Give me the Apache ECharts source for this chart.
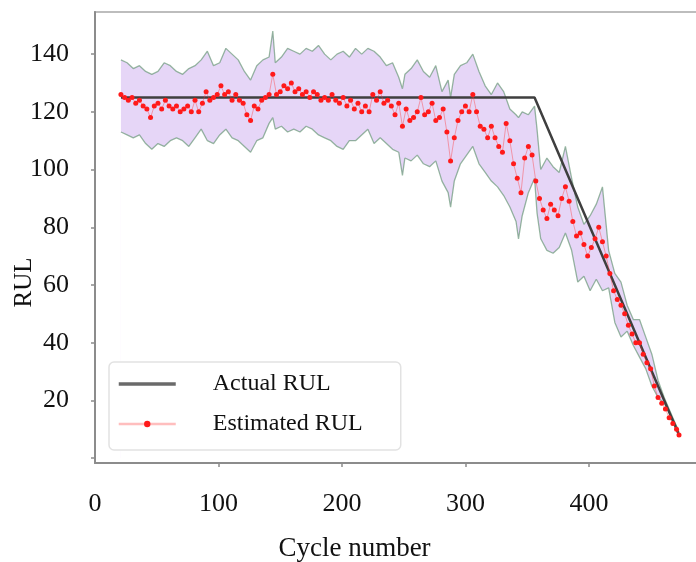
<!DOCTYPE html>
<html>
<head>
<meta charset="utf-8">
<title>RUL estimation</title>
<script src="https://cdn.jsdelivr.net/npm/echarts@6.0.0/dist/echarts.min.js"></script>
<style>
    html, body { margin: 0; padding: 0; background: #fff; }
    #main { width: 696px; height: 562px; }
</style>
</head>
<body>
<div id="main"></div>
<script>
// 数据：周期与RUL
var actualCycles = [21, 356, 473];
var actualRul = [125, 125, 8];

var estCycles = [21, 24, 27, 30, 33, 36, 39, 42, 45, 48, 51, 54, 57, 60, 63, 66, 69, 72, 75, 78,
    81, 84, 87, 90, 93, 96, 99, 102, 105, 108, 111, 114, 117, 120, 123, 126, 129, 132, 135, 138,
    141, 144, 147, 150, 153, 156, 159, 162, 165, 168, 171, 174, 177, 180, 183, 186, 189, 192, 195, 198,
    201, 204, 207, 210, 213, 216, 219, 222, 225, 228, 231, 234, 237, 240, 243, 246, 249, 252, 255, 258,
    261, 264, 267, 270, 273, 276, 279, 282, 285, 288, 291, 294, 297, 300, 303, 306, 309, 312, 315, 318,
    321, 324, 327, 330, 333, 336, 339, 342, 345, 348, 351, 354, 357, 360, 363, 366, 369, 372, 375, 378,
    381, 384, 387, 390, 393, 396, 399, 402, 405, 408, 411, 414, 417, 420, 423, 426, 429, 432, 435, 438,
    441, 444, 447, 450, 453, 456, 459, 462, 465, 468, 471, 473];
var estRul = [126, 125, 124, 125, 123, 124, 122, 121, 118, 122, 123, 121, 124, 122, 121, 122, 120, 121, 122, 120,
    124, 120, 123, 127, 124, 125, 126, 129, 126, 127, 124, 126, 124, 123, 119, 117, 122, 121, 124, 125,
    126, 133, 126, 127, 129, 128, 130, 127, 128, 126, 127, 125, 127, 126, 124, 125, 124, 126, 124, 123,
    125, 122, 124, 121, 123, 120, 122, 120, 126, 124, 127, 123, 124, 122, 119, 123, 115, 121, 117, 118,
    120, 125, 119, 120, 123, 117, 118, 121, 113, 103, 111, 117, 120, 122, 120, 126, 120, 115, 114, 111,
    115, 111, 108, 106, 116, 110, 102, 97, 92, 104, 108, 105, 96, 90, 86, 83, 88, 86, 84, 90,
    94, 89, 82, 77, 78, 74, 70, 73, 76, 80, 75, 70, 64, 58, 55, 53, 50, 46, 43, 40,
    40, 36, 33, 31, 25, 21, 19, 17, 14, 12, 10, 8];

var bandCycles = [21, 26, 31, 36, 41, 46, 51, 56, 61, 66, 71, 76, 81, 86, 91, 96, 101, 106, 111, 116,
    121, 126, 131, 136, 141, 144, 146, 151, 156, 161, 166, 171, 176, 181, 186, 191, 196, 201, 206, 211,
    216, 221, 226, 231, 236, 241, 246, 249, 251, 256, 261, 266, 271, 276, 281, 286, 288, 291, 296, 301,
    306, 311, 316, 321, 326, 331, 336, 341, 343, 346, 351, 356, 358, 361, 366, 371, 376, 381, 386, 391,
    396, 401, 406, 411, 416, 421, 426, 431, 436, 441, 446, 451, 456, 461, 466, 471, 473];
var bandUpper = [138, 137, 135, 136, 134, 133, 134, 137, 136, 134, 133, 135, 136, 138, 141, 136, 137, 142, 140, 138,
    134, 131, 136, 138, 139, 148, 137, 139, 142, 141, 140, 142, 141, 143, 140, 138, 140, 141, 139, 142,
    140, 142, 141, 139, 136, 137, 132, 128, 133, 135, 138, 134, 132, 136, 127, 131, 125, 133, 136, 137,
    140, 134, 129, 126, 130, 127, 121, 119, 118, 120, 119, 122, 114, 100, 104, 101, 99, 108, 97, 87,
    81, 84, 88, 94, 72, 64, 61, 53, 48, 48, 42, 36, 27, 21, 16, 11, 9];
var bandLower = [113, 112, 111, 112, 109, 107, 109, 108, 110, 111, 110, 108, 111, 114, 110, 109, 112, 114, 111, 110,
    108, 106, 110, 111, 116, 118, 114, 115, 113, 114, 113, 115, 114, 112, 111, 110, 108, 107, 110, 110,
    112, 114, 109, 111, 109, 107, 106, 98, 104, 103, 105, 102, 101, 103, 96, 92, 87, 96, 102, 105,
    108, 102, 99, 96, 94, 91, 87, 82, 76, 84, 92, 97, 85, 76, 72, 71, 73, 78, 72, 61,
    63, 58, 62, 58, 59, 47, 42, 44, 39, 35, 31, 25, 21, 19, 15, 11, 7.5];

var xLabels = [0, 100, 200, 300, 400];
var xTicks = [100, 200, 300, 400];
var yLabels = [20, 40, 60, 80, 100, 120, 140];
var yTicks = [0, 20, 40, 60, 80, 100, 120, 140];

(function () {
    var myChart = echarts.init(document.getElementById('main'));
    var serif = 'Liberation Serif';

    function pairs(xs, ys) {
        return xs.map(function (x, i) { return [x, ys[i]]; });
    }
    // 置信带：上界填充淡紫色，下界以下用白色盖住
    var bandLine = 'rgba(70,130,85,0.55)';

    var option = {
        animation: false,
        backgroundColor: '#fff',
        grid: {
            left: 95, top: 12, right: -4, bottom: 99,
            outerBoundsMode: 'none',
            show: true, borderColor: '#bdbdbd', borderWidth: 2
        },
        legend: {
            data: [
                { name: 'Actual RUL', lineStyle: { color: '#6a6a6a', width: 3.5 }, itemStyle: { opacity: 0 } },
                { name: 'Estimated RUL', lineStyle: { color: 'rgba(255,110,110,0.45)', width: 2.5 }, itemStyle: { color: '#ff1a1a' } }
            ],
            orient: 'vertical',
            left: 109, top: 362,
            itemWidth: 57, itemHeight: 8, itemGap: 16,
            padding: [10, 38, 14, 8],
            backgroundColor: '#fff',
            borderColor: '#e2e2e2', borderWidth: 1.5, borderRadius: 5,
            textStyle: { fontFamily: serif, fontSize: 24, color: '#111', padding: [0, 0, 0, 32] }
        },
        xAxis: {
            type: 'value',
            min: 0, max: 490,
            name: 'Cycle number',
            nameLocation: 'middle',
            nameGap: 72,
            nameMoveOverlap: false,
            nameTextStyle: { fontFamily: serif, fontSize: 27, color: '#111', padding: [0, 86, 0, 0] },
            axisLine: { show: true, onZero: false, lineStyle: { color: '#8c8c8c', width: 2 } },
            axisTick: { show: true, customValues: xTicks, length: 4, lineStyle: { color: '#8c8c8c', width: 1.5 } },
            axisLabel: { customValues: xLabels, fontFamily: serif, fontSize: 26, color: '#111', margin: 28 },
            splitLine: { show: false }
        },
        yAxis: {
            type: 'value',
            min: -1.7, max: 154.6,
            name: 'RUL',
            nameLocation: 'middle',
            nameGap: 58,
            nameMoveOverlap: false,
            nameTextStyle: { fontFamily: serif, fontSize: 25, color: '#111', padding: [0, 90, 0, 0] },
            axisLine: { show: true, onZero: false, lineStyle: { color: '#8c8c8c', width: 2 } },
            axisTick: { show: true, customValues: yTicks, length: 4, lineStyle: { color: '#8c8c8c', width: 1.5 } },
            axisLabel: { customValues: yLabels, fontFamily: serif, fontSize: 26, color: '#111', margin: 26 },
            splitLine: { show: false }
        },
        series: [
            {
                name: 'upper',
                type: 'line',
                data: pairs(bandCycles, bandUpper),
                symbol: 'none',
                lineStyle: { color: bandLine, width: 1.3 },
                areaStyle: { color: '#e6d6f7', opacity: 1 },
                z: 2
            },
            {
                name: 'lower',
                type: 'line',
                data: pairs(bandCycles, bandLower),
                symbol: 'none',
                lineStyle: { color: bandLine, width: 1.3 },
                areaStyle: { color: '#ffffff', opacity: 1 },
                z: 3
            },
            {
                name: 'Actual RUL',
                type: 'line',
                data: pairs(actualCycles, actualRul),
                symbol: 'none',
                lineStyle: { color: '#3f3f3f', width: 2.5 },
                itemStyle: { color: '#3f3f3f' },
                z: 4
            },
            {
                name: 'Estimated RUL',
                type: 'line',
                data: pairs(estCycles, estRul),
                symbol: 'circle',
                symbolSize: 5,
                lineStyle: { color: 'rgba(255,50,50,0.4)', width: 1 },
                itemStyle: { color: '#ff1a1a' },
                z: 5
            }
        ]
    };

    myChart.setOption(option);
    window.addEventListener("resize", function () {
        myChart.resize();
    });
})();
</script>
</body>
</html>
